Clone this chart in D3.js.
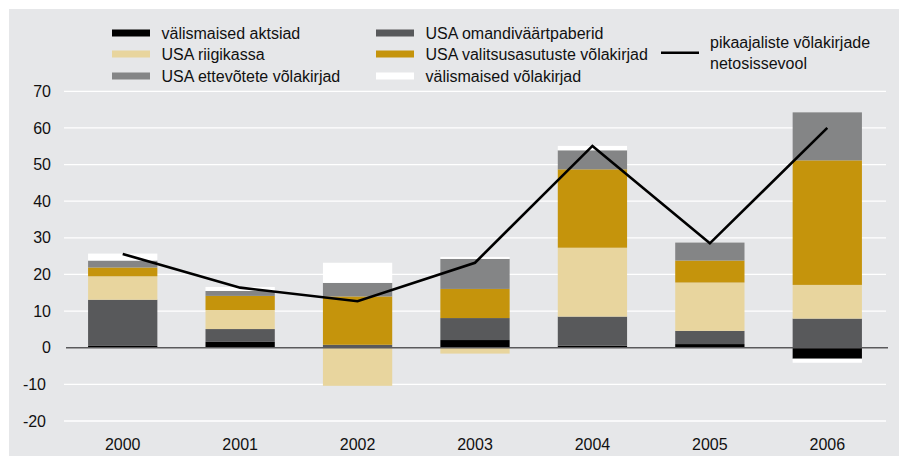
<!DOCTYPE html>
<html>
<head>
<meta charset="utf-8">
<script src="https://cdn.jsdelivr.net/npm/d3@7"></script>
<style>
  body { margin: 0; background: #fff; }
  svg text { font-family: "Liberation Sans", Arial, sans-serif; fill: #111; }
</style>
</head>
<body>
<script>
// values (mld USD)
var years = ["2000", "2001", "2002", "2003", "2004", "2005", "2006"];
var valisAktsiad = [0.5, 1.6, 0, 2.1, 0.55, 1.0, -3.0];
var usaOmandi = [12.6, 3.5, 0.8, 6.0, 7.95, 3.6, 7.95];
var usaRiigikassa = [6.4, 5.2, -10.4, -1.6, 18.8, 13.2, 9.2];
var usaValitsus = [2.4, 3.85, 13.2, 7.95, 21.4, 6.0, 34.0];
var usaEttevotete = [1.9, 1.35, 3.7, 8.2, 5.2, 4.9, 13.1];
var valisVolakirjad = [1.9, 1.1, 5.5, 0.55, 1.2, 0, -1.1];
var netoSissevool = [25.6, 16.4, 12.7, 23.2, 55.1, 28.5, 60.0];
var yTicks = [-20, -10, 0, 10, 20, 30, 40, 50, 60, 70];

var series = [
  { key: "välismaised aktsiad", values: valisAktsiad, color: "#000000" },
  { key: "USA omandiväärtpaberid", values: usaOmandi, color: "#58595b" },
  { key: "USA riigikassa", values: usaRiigikassa, color: "#e8d59e" },
  { key: "USA valitsusasutuste võlakirjad", values: usaValitsus, color: "#c5940c" },
  { key: "USA ettevõtete võlakirjad", values: usaEttevotete, color: "#848586" },
  { key: "välismaised võlakirjad", values: valisVolakirjad, color: "#ffffff" }
];

var rows = years.map(function (y, i) {
  var r = { year: y };
  series.forEach(function (s) { r[s.key] = s.values[i]; });
  return r;
});

var W = 900, H = 456;
var svg = d3.select("body").append("svg").attr("width", W).attr("height", H);

svg.append("rect")
  .attr("x", 9).attr("y", 9)
  .attr("width", 890).attr("height", 447)
  .attr("fill", "#e6e7e9");

var x = d3.scaleBand().domain(years).range([64, 886]).paddingInner(0.41).paddingOuter(0.205);
var y = d3.scaleLinear().domain([-20, 70]).range([421, 91.3]);

// gridlines
svg.append("g").selectAll("line")
  .data(yTicks.filter(function (d) { return d !== 0; }))
  .enter().append("line")
  .attr("x1", 64).attr("x2", 886)
  .attr("y1", function (d) { return y(d); })
  .attr("y2", function (d) { return y(d); })
  .attr("stroke", "#ffffff")
  .attr("stroke-width", 1.3);

// y tick labels
svg.append("g").selectAll("text")
  .data(yTicks)
  .enter().append("text")
  .attr("x", function (d) { return d < 0 ? 46 : 51; })
  .attr("y", function (d) { return y(d); })
  .attr("dy", "0.35em")
  .attr("text-anchor", "end")
  .style("font-size", "16px")
  .text(function (d) { return d; });

// stacked bars
var stack = d3.stack()
  .keys(series.map(function (s) { return s.key; }))
  .offset(d3.stackOffsetDiverging);
var stacked = stack(rows);

svg.append("g").selectAll("g")
  .data(stacked)
  .enter().append("g")
  .attr("fill", function (d, i) { return series[i].color; })
  .selectAll("rect")
  .data(function (d) { return d; })
  .enter().append("rect")
  .attr("x", function (d) { return x(d.data.year); })
  .attr("width", x.bandwidth())
  .attr("y", function (d) { return y(Math.max(d[0], d[1])); })
  .attr("height", function (d) { return Math.abs(y(d[0]) - y(d[1])); });

// zero line
svg.append("line")
  .attr("x1", 66).attr("x2", 888)
  .attr("y1", y(0)).attr("y2", y(0))
  .attr("stroke", "#5a5a5c")
  .attr("stroke-width", 1.5);

// net inflow line
var line = d3.line()
  .x(function (d, i) { return x(years[i]) + x.bandwidth() / 2; })
  .y(function (d) { return y(d); });

svg.append("path")
  .datum(netoSissevool)
  .attr("d", line)
  .attr("fill", "none")
  .attr("stroke", "#000")
  .attr("stroke-width", 2.6);

// x labels
svg.append("g").selectAll("text")
  .data(years)
  .enter().append("text")
  .attr("x", function (d) { return x(d) + x.bandwidth() / 2; })
  .attr("y", 450)
  .attr("text-anchor", "middle")
  .style("font-size", "16px")
  .text(function (d) { return d; });

// legend
var legendPos = [
  [112, 33], [376, 33],
  [112, 54], [376, 54],
  [112, 76], [376, 76]
];
var lg = svg.append("g");
series.forEach(function (s, k) {
  var p = legendPos[k];
  lg.append("rect")
    .attr("x", p[0]).attr("y", p[1] - 3.5)
    .attr("width", 38).attr("height", 7)
    .attr("fill", s.color);
  lg.append("text")
    .attr("x", p[0] + 49.5).attr("y", p[1])
    .attr("dy", "0.35em")
    .style("font-size", "16px")
    .text(s.key);
});
lg.append("line")
  .attr("x1", 661).attr("x2", 699)
  .attr("y1", 52.7).attr("y2", 52.7)
  .attr("stroke", "#000").attr("stroke-width", 2.6);
lg.append("text")
  .attr("x", 710).attr("y", 42).attr("dy", "0.35em")
  .style("font-size", "16px")
  .text("pikaajaliste võlakirjade");
lg.append("text")
  .attr("x", 710).attr("y", 63).attr("dy", "0.35em")
  .style("font-size", "16px")
  .text("netosissevool");
</script>
</body>
</html>
